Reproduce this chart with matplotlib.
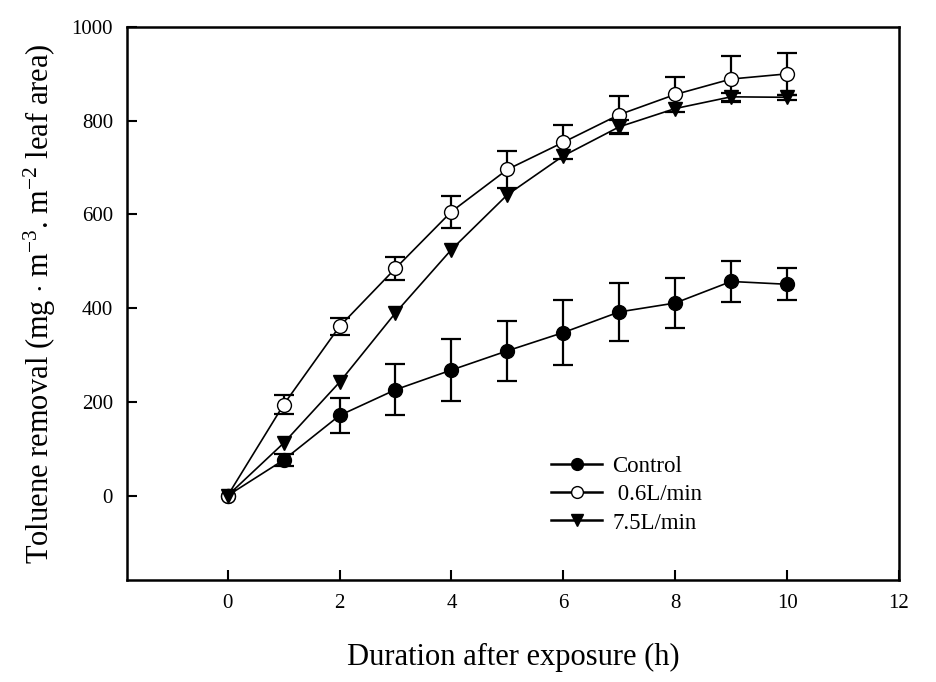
import matplotlib.pyplot as plt
import numpy as np

plt.rcParams['font.family'] = ['Liberation Serif', 'DejaVu Serif']
plt.rcParams['mathtext.fontset'] = 'custom'
plt.rcParams['mathtext.rm'] = 'Liberation Serif'
plt.rcParams['mathtext.it'] = 'Liberation Serif:italic'
plt.rcParams['axes.unicode_minus'] = False

hours = [0, 1, 2, 3, 4, 5, 6, 7, 8, 9, 10]

control = [0, 76, 171, 226, 268, 309, 348, 392, 411, 457, 451]
control_err = [np.nan, 13, 37, 54, 67, 64, 69, 61, 53, 43, 34]

flow06 = [0, 194, 361, 485, 606, 696, 754, 813, 856, 889, 900]
flow06_err = [np.nan, 20, 18, 24, 34, 39, 36, 40, 37, 50, 45]

flow75 = [0, 112, 242, 390, 525, 642, 725, 787, 826, 851, 850]
flow75_err = [np.nan, np.nan, np.nan, np.nan, np.nan, np.nan, np.nan, 15, np.nan, 8, 5]

fig = plt.figure(figsize=(9.37, 6.82), dpi=100)
ax = fig.add_axes([0.1355, 0.1496, 0.8239, 0.8108])

kw = dict(color='black', lw=1.2, ms=10, capsize=7, capthick=1.6, elinewidth=1.6)
ax.errorbar(hours, control, yerr=control_err, marker='o', mfc='black', mec='black',
            label='Control', zorder=3, **kw)
ax.errorbar(hours, flow06, yerr=flow06_err, marker='o', mfc='white', mec='black',
            label=' 0.6L/min', zorder=4, **kw)
ax.errorbar(hours, flow75, yerr=flow75_err, marker='v', mfc='black', mec='black',
            label='7.5L/min', zorder=5, **kw)

ax.set_xlim(-1.8, 12)
ax.set_ylim(-180, 1000)
ax.set_xticks(np.arange(0, 13, 2))
ax.set_yticks(np.arange(0, 1001, 200))
ax.tick_params(direction='in', length=7, width=1.5, labelsize=15, pad=10,
               top=False, right=False)
for s in ax.spines.values():
    s.set_linewidth(1.8)

ax.set_xlabel('Duration after exposure (h)', fontsize=22, labelpad=22)
ax.set_ylabel(r'Toluene removal (mg $\cdot$ m$^{-3}$. m$^{-2}$ leaf area)',
              fontsize=22, labelpad=10)

h, l = ax.get_legend_handles_labels()
h = [x[0] for x in h]
leg = ax.legend(h, l, loc='upper left', bbox_to_anchor=(0.523, 0.262), frameon=False,
                fontsize=16.5, handlelength=2.2, handletextpad=0.45, labelspacing=0.32,
                markerscale=0.85)
for line in leg.get_lines():
    line.set_linewidth(1.8)

plt.savefig('out.png')
